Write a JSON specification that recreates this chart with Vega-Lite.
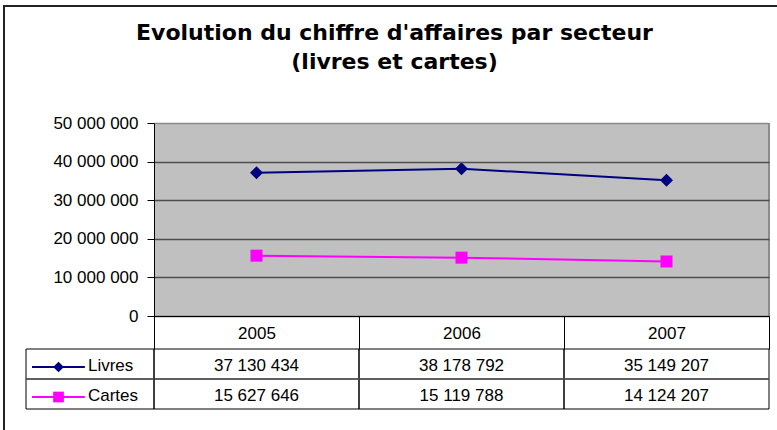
{
  "$schema": "https://vega.github.io/schema/vega-lite/v6.json",
  "width": 793,
  "height": 439,
  "autosize": {"type": "none"},
  "padding": {"left": 4, "top": 6, "right": -20, "bottom": -15},
  "background": "white",
  "title": {
    "text": ["Evolution du chiffre d'affaires par secteur", "(livres et cartes)"],
    "font": "DejaVu Sans",
    "fontSize": 22,
    "fontWeight": "bold",
    "color": "#000",
    "anchor": "middle",
    "frame": "group",
    "offset": -68,
    "dx": -6,
    "lineHeight": 29
  },
  "data": {
    "values": [
      {"annee": "2005", "secteur": "Livres", "ca": 37130434},
      {"annee": "2006", "secteur": "Livres", "ca": 38178792},
      {"annee": "2007", "secteur": "Livres", "ca": 35149207},
      {"annee": "2005", "secteur": "Cartes", "ca": 15627646},
      {"annee": "2006", "secteur": "Cartes", "ca": 15119788},
      {"annee": "2007", "secteur": "Cartes", "ca": 14124207}
    ]
  },
  "resolve": {"scale": {"x": "independent", "y": "independent"}},
  "layer": [
    {
      "layer": [
        {
          "mark": {"type": "rect", "color": "#C0C0C0"},
          "transform": [{"filter": "datum.secteur === 'Livres'"}],
          "encoding": {
            "x": {
              "field": "annee", "type": "nominal",
              "scale": {"type": "band", "domain": ["2005", "2006", "2007"], "range": [150, 765], "paddingInner": 0, "paddingOuter": 0},
              "axis": {
                "orient": "bottom", "offset": -129, "title": null, "labelAngle": 0,
                "labelFontSize": 17, "labelColor": "#000", "labelBaseline": "middle", "labelPadding": -16,
                "tickBand": "extent", "tickSize": 33, "tickColor": "#000", "domainColor": "#000",
                "grid": false, "zindex": 1
              }
            },
            "y": {
              "datum": 0, "type": "quantitative",
              "scale": {"domain": [0, 50000000], "range": [310, 117], "nice": false},
              "axis": {
                "orient": "left", "offset": -150, "title": null,
                "values": [0, 10000000, 20000000, 30000000, 40000000, 50000000],
                "format": ",d", "labelFontSize": 17, "labelColor": "#000", "labelPadding": 9,
                "tickSize": 7, "tickColor": "#000", "domainColor": "#000",
                "grid": true,
                "gridColor": {"condition": {"test": "datum.value === 50000000", "value": "#8c8c8c"}, "value": "#4d4d4d"},
                "gridWidth": 1.3, "zindex": 1
              }
            },
            "y2": {"datum": 50000000}
          }
        },
        {
          "data": {"values": [{}]},
          "mark": {"type": "rule", "color": "#8c8c8c", "strokeWidth": 2},
          "encoding": {
            "x": {"datum": "2007", "type": "nominal", "bandPosition": 1},
            "y": {"datum": 0, "type": "quantitative"},
            "y2": {"datum": 50000000}
          }
        },
        {
          "mark": {"type": "line", "strokeWidth": 2},
          "encoding": {
            "x": {"field": "annee", "type": "nominal", "bandPosition": 0.5},
            "y": {"field": "ca", "type": "quantitative"},
            "color": {"field": "secteur", "type": "nominal", "scale": {"domain": ["Livres", "Cartes"], "range": ["#000080", "#FF00FF"]}, "legend": null}
          }
        },
        {
          "transform": [{"filter": "datum.secteur === 'Livres'"}],
          "mark": {"type": "point", "shape": "diamond", "filled": true, "opacity": 1, "size": 169, "color": "#000080"},
          "encoding": {
            "x": {"field": "annee", "type": "nominal", "bandPosition": 0.5},
            "y": {"field": "ca", "type": "quantitative"}
          }
        },
        {
          "transform": [{"filter": "datum.secteur === 'Cartes'"}],
          "mark": {"type": "point", "shape": "square", "filled": true, "opacity": 1, "size": 144, "color": "#FF00FF"},
          "encoding": {
            "x": {"field": "annee", "type": "nominal", "bandPosition": 0.5},
            "y": {"field": "ca", "type": "quantitative"}
          }
        }
      ]
    },
    {
      "layer": [
        {
          "mark": {"type": "rect", "filled": false, "color": "#000", "strokeWidth": 1},
          "encoding": {
            "x": {"field": "annee", "type": "nominal", "scale": {"type": "band", "domain": ["2005", "2006", "2007"], "range": [150, 765], "paddingInner": 0, "paddingOuter": 0}, "axis": null},
            "y": {"field": "secteur", "type": "nominal", "scale": {"type": "band", "domain": ["Livres", "Cartes"], "range": [343, 403], "paddingInner": 0, "paddingOuter": 0}, "axis": null}
          }
        },
        {
          "data": {"values": [{}]},
          "mark": {"type": "rule", "color": "#808080", "strokeWidth": 1},
          "encoding": {
            "x": {"datum": "2005", "type": "nominal", "bandPosition": 0},
            "x2": {"datum": "2007", "bandPosition": 1},
            "y": {"datum": "Cartes", "type": "nominal", "bandPosition": 0}
          }
        },
        {
          "mark": {"type": "text", "fontSize": 17, "color": "#000", "baseline": "middle"},
          "encoding": {
            "x": {"field": "annee", "type": "nominal", "bandPosition": 0.5},
            "y": {"field": "secteur", "type": "nominal", "bandPosition": 0.55},
            "text": {"field": "ca", "type": "quantitative", "format": ",d"}
          }
        }
      ]
    },
    {
      "transform": [{"filter": "datum.annee === '2005'"}],
      "layer": [
        {
          "mark": {"type": "rect", "filled": false, "color": "#000", "strokeWidth": 1},
          "encoding": {
            "x": {"datum": "L", "type": "nominal", "scale": {"type": "band", "domain": ["L"], "range": [22, 150], "paddingInner": 0, "paddingOuter": 0}, "axis": null},
            "y": {"field": "secteur", "type": "nominal", "scale": {"type": "band", "domain": ["Livres", "Cartes"], "range": [343, 403], "paddingInner": 0, "paddingOuter": 0}, "axis": null}
          }
        },
        {
          "data": {"values": [{}]},
          "mark": {"type": "rule", "color": "#808080", "strokeWidth": 1},
          "encoding": {
            "x": {"datum": "L", "type": "nominal", "bandPosition": 0},
            "x2": {"datum": "L", "bandPosition": 1},
            "y": {"datum": "Cartes", "type": "nominal", "bandPosition": 0}
          }
        },
        {
          "mark": {"type": "rule", "strokeWidth": 2},
          "encoding": {
            "x": {"datum": "L", "type": "nominal", "bandPosition": 0.047},
            "x2": {"datum": "L", "bandPosition": 0.46},
            "y": {"field": "secteur", "type": "nominal", "bandPosition": 0.6},
            "color": {"field": "secteur", "type": "nominal", "scale": {"domain": ["Livres", "Cartes"], "range": ["#000080", "#FF00FF"]}, "legend": null}
          }
        },
        {
          "mark": {"type": "point", "filled": true, "opacity": 1, "size": 115},
          "encoding": {
            "x": {"datum": "L", "type": "nominal", "bandPosition": 0.254},
            "y": {"field": "secteur", "type": "nominal", "bandPosition": 0.6},
            "shape": {"field": "secteur", "type": "nominal", "scale": {"domain": ["Livres", "Cartes"], "range": ["diamond", "square"]}, "legend": null},
            "color": {"field": "secteur", "type": "nominal", "scale": {"domain": ["Livres", "Cartes"], "range": ["#000080", "#FF00FF"]}, "legend": null}
          }
        },
        {
          "mark": {"type": "text", "align": "left", "baseline": "middle", "fontSize": 17, "color": "#000"},
          "encoding": {
            "x": {"datum": "L", "type": "nominal", "bandPosition": 0.484},
            "y": {"field": "secteur", "type": "nominal", "bandPosition": 0.58},
            "text": {"field": "secteur", "type": "nominal"}
          }
        }
      ]
    }
  ],
  "config": {
    "font": "Liberation Sans",
    "view": {"stroke": "#222", "strokeWidth": 2},
    "locale": {"number": {"decimal": ",", "thousands": " ", "grouping": [3], "currency": ["", " €"]}},
    "axis": {"labelFont": "Liberation Sans", "labelFontSize": 17, "labelColor": "#000"}
  }
}
